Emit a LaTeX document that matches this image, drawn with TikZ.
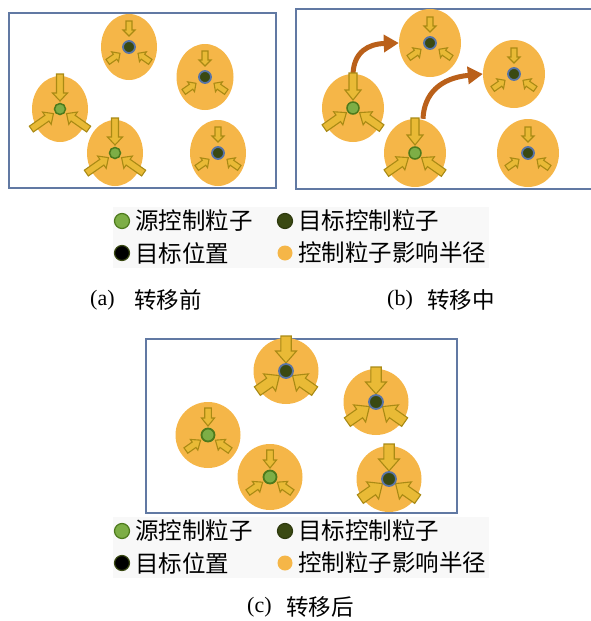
\documentclass[tikz,border=0pt]{standalone}
\usepackage{fontspec}
\setmainfont{Liberation Serif}
\newfontfamily\cjk{Noto Sans CJK SC}
\usetikzlibrary{shapes.geometric,arrows.meta}
\definecolor{boxc}{HTML}{6179A3}
\definecolor{zonec}{HTML}{F5B648}
\definecolor{arrfill}{HTML}{E9BA36}
\definecolor{arrdraw}{HTML}{A98A14}
\definecolor{srcfill}{HTML}{7DAE46}
\definecolor{srcdraw}{HTML}{4D7A1C}
\definecolor{tgtfill}{HTML}{3A4912}
\definecolor{tgtdraw}{HTML}{5874A6}
\definecolor{movec}{HTML}{BA601A}
\definecolor{legbg}{HTML}{F8F8F8}
\tikzset{
  framebox/.style={draw=boxc, line width=2.4pt},
  zone/.style={ellipse, fill=zonec, draw=none, inner sep=0pt},
  srcdot/.style={circle, fill=srcfill, draw=srcdraw, line width=1.5pt, inner sep=0pt, minimum size=11pt},
  tgtdot/.style={circle, fill=tgtfill, draw=tgtdraw, line width=1.8pt, inner sep=0pt, minimum size=12pt},
  blockarrow/.style={fill=arrfill, draw=arrdraw, line width=1.1pt, line join=miter},
  movearrow/.style={draw=movec, line width=5pt, -{Triangle[length=15pt,width=17pt]}},
  ltext/.style={font=\cjk\fontsize{23.5}{25}\selectfont, anchor=west, inner sep=0pt},
  ldot/.style={circle, inner sep=0pt, minimum size=15pt, line width=1.2pt},
  capl/.style={font=\fontsize{22}{24}\selectfont, anchor=west, inner sep=0pt},
  capc/.style={font=\cjk\fontsize{22.5}{24}\selectfont, anchor=west, inner sep=0pt},
}
% node, angle, tip, far, shaft half width, head half width, head length
\newcommand{\blk}[7]{%
  \draw[blockarrow, shift={(#1)}, rotate=#2] (#3,0) -- ({#3+#7},#6) -- ({#3+#7},#5) -- (#4,#5) -- (#4,-#5) -- ({#3+#7},-#5) -- ({#3+#7},-#6) -- cycle;}
\newcommand{\threearr}[6]{%
  \blk{#1}{90}{#2}{#3}{#4}{#5}{#6}%
  \blk{#1}{215}{#2}{#3}{#4}{#5}{#6}%
  \blk{#1}{325}{#2}{#3}{#4}{#5}{#6}}
\begin{document}
\begin{tikzpicture}[x=1pt,y=-1pt]
\useasboundingbox (0,0) rectangle (591,621);

% ---------- panel (a)
\draw[framebox] (9,13) rectangle (276,188);
\node[zone, minimum width=56pt, minimum height=66pt] (aT) at (129,47) {};
\node[zone, minimum width=57pt, minimum height=66pt] (aR) at (205,77) {};
\node[zone, minimum width=56pt, minimum height=66pt] (aL) at (60,109) {};
\node[zone, minimum width=56pt, minimum height=66pt] (aM) at (115,153) {};
\node[zone, minimum width=56pt, minimum height=66pt] (aB) at (218,153) {};
\threearr{aL}{8}{35}{3.5}{7.5}{8}
\threearr{aM}{8}{35}{3.5}{7.5}{8}
\threearr{aT}{11}{26}{3}{6}{6}
\threearr{aR}{11}{26}{3}{6}{6}
\threearr{aB}{11}{26}{3}{6}{6}
\node[srcdot] (aLd) at (aL) {};
\node[srcdot] (aMd) at (aM) {};
\node[tgtdot] (aTd) at (aT) {};
\node[tgtdot] (aRd) at (aR) {};
\node[tgtdot] (aBd) at (aB) {};

% ---------- panel (b)
\draw[framebox] (296,9) rectangle (594,189);
\node[zone, minimum width=62pt, minimum height=68pt] (bL) at (353,108) {};
\node[zone, minimum width=62pt, minimum height=68pt] (bM) at (415,153) {};
\node[zone, minimum width=62pt, minimum height=68pt] (bT) at (430,43) {};
\node[zone, minimum width=62pt, minimum height=68pt] (bR) at (514,74) {};
\node[zone, minimum width=62pt, minimum height=68pt] (bB) at (528,153) {};
\draw[movearrow] (bL.north) .. controls (354,52) and (368,44) .. (bT.west);
\draw[movearrow] ([xshift=8pt]bM.north) .. controls (424,94) and (440,78) .. (bR.west);
\threearr{bL}{8}{35}{4}{8}{10}
\threearr{bM}{8}{35}{4}{8}{10}
\threearr{bT}{11}{26}{3}{6}{6}
\threearr{bR}{11}{26}{3}{6}{6}
\threearr{bB}{11}{26}{3}{6}{6}
\node[srcdot, minimum size=12pt] (bLd) at (bL) {};
\node[srcdot, minimum size=12pt] (bMd) at (bM) {};
\node[tgtdot] (bTd) at (bT) {};
\node[tgtdot] (bRd) at (bR) {};
\node[tgtdot] (bBd) at (bB) {};

% ---------- legend (a/b)
\fill[legbg] (113,207) rectangle (489,268);
\node[ldot, fill=srcfill, draw=srcdraw] (la1) at (122,221) {};
\node[ltext] (ta1) at (135,221) {源控制粒子};
\node[ldot, fill=tgtfill, draw=tgtfill!80!black] (la2) at (285,221) {};
\node[ltext] (ta2) at (298,221) {目标控制粒子};
\node[ldot, fill=black, draw=tgtfill] (la3) at (122,253) {};
\node[ltext] (ta3) at (135,253) {目标位置};
\node[ldot, fill=zonec, draw=none] (la4) at (285,253) {};
\node[ltext] (ta4) at (298,253) {控制粒子影响半径};

\node[capl] (capa) at (90,300) {(a)};
\node[capc] (capat) at (134,300) {转移前};
\node[capl] (capb) at (387,300) {(b)};
\node[capc] (capbt) at (427,300) {转移中};

% ---------- panel (c)
\draw[framebox] (146,339) rectangle (457,513);
\node[zone, minimum width=65pt, minimum height=66pt] (cT) at (286,371) {};
\node[zone, minimum width=65pt, minimum height=66pt] (cR) at (376,402) {};
\node[zone, minimum width=65pt, minimum height=66pt] (cL) at (208,435) {};
\node[zone, minimum width=65pt, minimum height=66pt] (cM) at (270,477) {};
\node[zone, minimum width=65pt, minimum height=66pt] (cB) at (389,479) {};
\threearr{cT}{8}{35}{5.2}{10.5}{12}
\threearr{cR}{8}{35}{5.2}{10.5}{12}
\threearr{cB}{8}{35}{5.2}{10.5}{12}
\threearr{cL}{9}{27}{3.3}{6.5}{8}
\threearr{cM}{9}{27}{3.3}{6.5}{8}
\node[srcdot, minimum size=13pt, line width=1.8pt] (cLd) at (cL) {};
\node[srcdot, minimum size=13pt, line width=1.8pt] (cMd) at (cM) {};
\node[tgtdot, minimum size=14pt] (cTd) at (cT) {};
\node[tgtdot, minimum size=14pt] (cRd) at (cR) {};
\node[tgtdot, minimum size=14pt] (cBd) at (cB) {};

% ---------- legend (c)
\fill[legbg] (113,517) rectangle (489,578);
\node[ldot, fill=srcfill, draw=srcdraw] (lc1) at (122,531) {};
\node[ltext] (tc1) at (135,531) {源控制粒子};
\node[ldot, fill=tgtfill, draw=tgtfill!80!black] (lc2) at (285,531) {};
\node[ltext] (tc2) at (298,531) {目标控制粒子};
\node[ldot, fill=black, draw=tgtfill] (lc3) at (122,563) {};
\node[ltext] (tc3) at (135,563) {目标位置};
\node[ldot, fill=zonec, draw=none] (lc4) at (285,563) {};
\node[ltext] (tc4) at (298,563) {控制粒子影响半径};

\node[capl] (capc) at (247,607) {(c)};
\node[capc] (capct) at (286,607) {转移后};
\end{tikzpicture}
\end{document}
